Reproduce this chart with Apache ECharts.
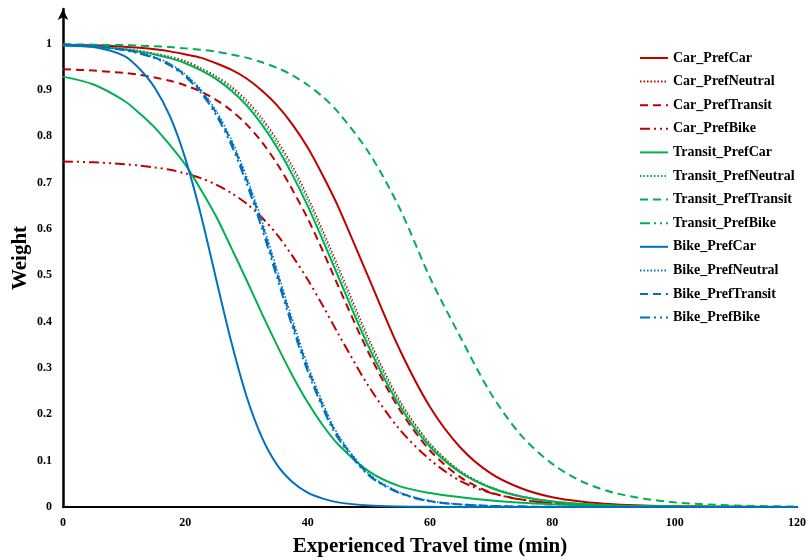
<!DOCTYPE html>
<html>
<head>
<meta charset="utf-8">
<script src="https://cdn.jsdelivr.net/npm/echarts@6/dist/echarts.min.js"></script>
<style>
  html, body { margin: 0; padding: 0; background: #fff; }
  #chart { width: 810px; height: 560px; }
</style>
</head>
<body>
<div id="chart"></div>
<script>
"use strict"
// travel time (min), shared by every curve
var travelTime = [0, 5, 10, 12.5, 15, 17.5, 20, 22.5, 25, 27.5, 30, 32.5, 35, 37.5, 40, 42.5, 45,
                  50, 55, 60, 65, 70, 75, 80, 85, 90, 95, 100, 105, 110, 115, 120];

var carPrefCar = [0.998, 0.9966, 0.9936, 0.9912, 0.988, 0.9835, 0.977, 0.970, 0.958, 0.944, 0.925, 0.899, 0.867, 0.826, 0.776, 0.715, 0.648,
                  0.494, 0.341, 0.216, 0.128, 0.072, 0.040, 0.021, 0.0114, 0.006, 0.003, 0.0017, 0.0009, 0.0005, 0.0003, 0.0001];
var carPrefNeutral = [0.9969, 0.994, 0.989, 0.985, 0.979, 0.972, 0.963, 0.948, 0.930, 0.908, 0.878, 0.840, 0.792, 0.736, 0.670, 0.596, 0.519,
                      0.363, 0.231, 0.137, 0.077, 0.042, 0.023, 0.012, 0.0065, 0.0035, 0.0019, 0.001, 0.0005, 0.0003, 0.0002, 0.0001];
var carPrefTransit = [0.945, 0.942, 0.937, 0.933, 0.927, 0.920, 0.910, 0.897, 0.879, 0.856, 0.826, 0.788, 0.741, 0.685, 0.623, 0.552, 0.477,
                      0.332, 0.211, 0.122, 0.064, 0.031, 0.016, 0.008, 0.004, 0.002, 0.001, 0.0005, 0.0003, 0.0001, 0, 0];
var carPrefBike = [0.746, 0.744, 0.740, 0.737, 0.733, 0.728, 0.720, 0.710, 0.696, 0.678, 0.655, 0.625, 0.588, 0.542, 0.491, 0.434, 0.374,
                   0.260, 0.168, 0.102, 0.056, 0.030, 0.016, 0.008, 0.004, 0.002, 0.001, 0.0005, 0.0003, 0.0001, 0, 0];

var transitPrefCar = [0.9964, 0.9934, 0.988, 0.983, 0.977, 0.969, 0.958, 0.943, 0.924, 0.899, 0.867, 0.826, 0.776, 0.717, 0.650, 0.575, 0.497,
                      0.345, 0.219, 0.130, 0.074, 0.041, 0.022, 0.012, 0.0064, 0.0034, 0.0019, 0.001, 0.0005, 0.0003, 0.0002, 0.0001];
var transitPrefNeutral = [0.9966, 0.9937, 0.9885, 0.984, 0.978, 0.971, 0.961, 0.946, 0.928, 0.904, 0.873, 0.834, 0.785, 0.728, 0.662, 0.588, 0.510,
                          0.356, 0.227, 0.136, 0.077, 0.043, 0.023, 0.0125, 0.0067, 0.0036, 0.002, 0.001, 0.0005, 0.0003, 0.0002, 0.0001];
var transitPrefTransit = [0.999, 0.998, 0.997, 0.996, 0.9946, 0.9928, 0.990, 0.987, 0.983, 0.977, 0.970, 0.960, 0.948, 0.932, 0.911, 0.885, 0.852,
                          0.765, 0.646, 0.495, 0.366, 0.244, 0.153, 0.093, 0.054, 0.031, 0.018, 0.010, 0.0057, 0.0032, 0.0018, 0.001];
var transitPrefBike = [0.929, 0.912, 0.877, 0.850, 0.819, 0.781, 0.739, 0.686, 0.628, 0.560, 0.490, 0.418, 0.349, 0.284, 0.226, 0.176, 0.135,
                       0.077, 0.045, 0.030, 0.021, 0.014, 0.009, 0.006, 0.004, 0.0025, 0.0015, 0.001, 0.0005, 0.0003, 0.0002, 0.0001];

var bikePrefCar = [0.997, 0.993, 0.974, 0.946, 0.905, 0.843, 0.752, 0.633, 0.494, 0.357, 0.239, 0.151, 0.091, 0.054, 0.031, 0.018, 0.010,
                   0.0033, 0.001, 0.0003, 0, 0, 0, 0, 0, 0, 0, 0, 0, 0, 0, 0];
var bikePrefNeutral = [0.998, 0.995, 0.987, 0.981, 0.971, 0.957, 0.934, 0.902, 0.856, 0.794, 0.714, 0.619, 0.512, 0.405, 0.307, 0.224, 0.156,
                       0.072, 0.032, 0.013, 0.0057, 0.0025, 0.001, 0.0004, 0, 0, 0, 0, 0, 0, 0, 0];
var bikePrefTransit = [0.998, 0.995, 0.987, 0.980, 0.970, 0.955, 0.932, 0.899, 0.852, 0.789, 0.707, 0.611, 0.504, 0.397, 0.300, 0.218, 0.152,
                       0.070, 0.031, 0.013, 0.0056, 0.0024, 0.001, 0.0004, 0, 0, 0, 0, 0, 0, 0, 0];
var bikePrefBike = [0.998, 0.995, 0.986, 0.979, 0.969, 0.953, 0.929, 0.895, 0.847, 0.782, 0.699, 0.602, 0.495, 0.389, 0.293, 0.213, 0.148,
                    0.068, 0.030, 0.012, 0.0054, 0.0023, 0.001, 0.0004, 0, 0, 0, 0, 0, 0, 0, 0];

var yTicks = [0, 0.1, 0.2, 0.3, 0.4, 0.5, 0.6, 0.7, 0.8, 0.9, 1];

var RED = '#C00000', GREEN = '#00B050', BLUE = '#0070C0';
var SOLID = 'solid', DOT = [1.5, 2], DASH = [8, 5], DASHDOT = [10, 4, 2, 4, 2, 4];

var curves = [
  { name: 'Car_PrefCar', data: carPrefCar, color: RED, type: SOLID, width: 2 },
  { name: 'Car_PrefNeutral', data: carPrefNeutral, color: RED, type: DOT, width: 1.5 },
  { name: 'Car_PrefTransit', data: carPrefTransit, color: RED, type: DASH, width: 2 },
  { name: 'Car_PrefBike', data: carPrefBike, color: RED, type: DASHDOT, width: 2 },
  { name: 'Transit_PrefCar', data: transitPrefCar, color: GREEN, type: SOLID, width: 2 },
  { name: 'Transit_PrefNeutral', data: transitPrefNeutral, color: GREEN, type: DOT, width: 1.5 },
  { name: 'Transit_PrefTransit', data: transitPrefTransit, color: GREEN, type: DASH, width: 2 },
  { name: 'Transit_PrefBike', data: transitPrefBike, color: GREEN, type: SOLID, width: 2, legendType: DASHDOT },
  { name: 'Bike_PrefCar', data: bikePrefCar, color: BLUE, type: SOLID, width: 2 },
  { name: 'Bike_PrefNeutral', data: bikePrefNeutral, color: BLUE, type: DOT, width: 1.5 },
  { name: 'Bike_PrefTransit', data: bikePrefTransit, color: BLUE, type: DASH, width: 2 },
  { name: 'Bike_PrefBike', data: bikePrefBike, color: BLUE, type: DASHDOT, width: 2 }
];

var FONT = '"Liberation Serif", "Times New Roman", serif';

var series = curves.map(function (c) {
  return {
    name: c.name,
    type: 'line',
    smooth: 0.3,
    symbol: 'none',
    data: travelTime.map(function (t, i) { return [t, c.data[i]]; }),
    lineStyle: { color: c.color, width: c.width, type: c.type },
    itemStyle: { color: c.color },
    emphasis: { disabled: true },
    animation: false
  };
});

var legendData = curves.map(function (c) {
  var item = { name: c.name };
  if (c.legendType) item.lineStyle = { type: c.legendType };
  return item;
});

var option = {
  backgroundColor: '#fff',
  animation: false,
  grid: { left: 63, right: 13, top: 9, bottom: 53, containLabel: false, outerBoundsMode: 'none' },
  legend: {
    orient: 'vertical',
    left: 634,
    top: 46,
    itemWidth: 28,
    itemHeight: 14,
    itemGap: 9.6,
    itemStyle: { opacity: 0 },
    data: legendData,
    textStyle: { fontFamily: FONT, fontWeight: 'bold', fontSize: 14, color: '#000' }
  },
  xAxis: {
    type: 'value',
    min: 0,
    max: 120,
    interval: 20,
    name: 'Experienced Travel time (min)',
    nameLocation: 'middle',
    nameGap: 29,
    nameTextStyle: { fontFamily: FONT, fontWeight: 'bold', fontSize: 21, color: '#000' },
    axisLine: { show: true, lineStyle: { color: '#000', width: 2 } },
    axisTick: { show: false },
    splitLine: { show: false },
    axisLabel: { margin: 10, fontFamily: FONT, fontWeight: 'bold', fontSize: 12, color: '#000' }
  },
  yAxis: {
    type: 'value',
    min: 0,
    max: 1.075,
    interval: 0.1,
    name: 'Weight',
    nameLocation: 'middle',
    nameGap: 32,
    nameMoveOverlap: false,
    nameTextStyle: { fontFamily: FONT, fontWeight: 'bold', fontSize: 21, color: '#000' },
    axisLine: { show: true, symbol: ['none', 'arrow'], symbolSize: [8, 11], lineStyle: { color: '#000', width: 2.5 } },
    axisTick: { show: false },
    splitLine: { show: false },
    axisLabel: {
      margin: 11,
      showMaxLabel: false,
      fontFamily: FONT, fontWeight: 'bold', fontSize: 12, color: '#000',
      formatter: function (v) {
        for (var i = 0; i < yTicks.length; i++) {
          if (Math.abs(v - yTicks[i]) < 1e-6) return String(yTicks[i]);
        }
        return '';
      }
    }
  },
  series: series
};

var chart = echarts.init(document.getElementById('chart'), null, { renderer: 'canvas' });
chart.setOption(option);
</script>
</body>
</html>
